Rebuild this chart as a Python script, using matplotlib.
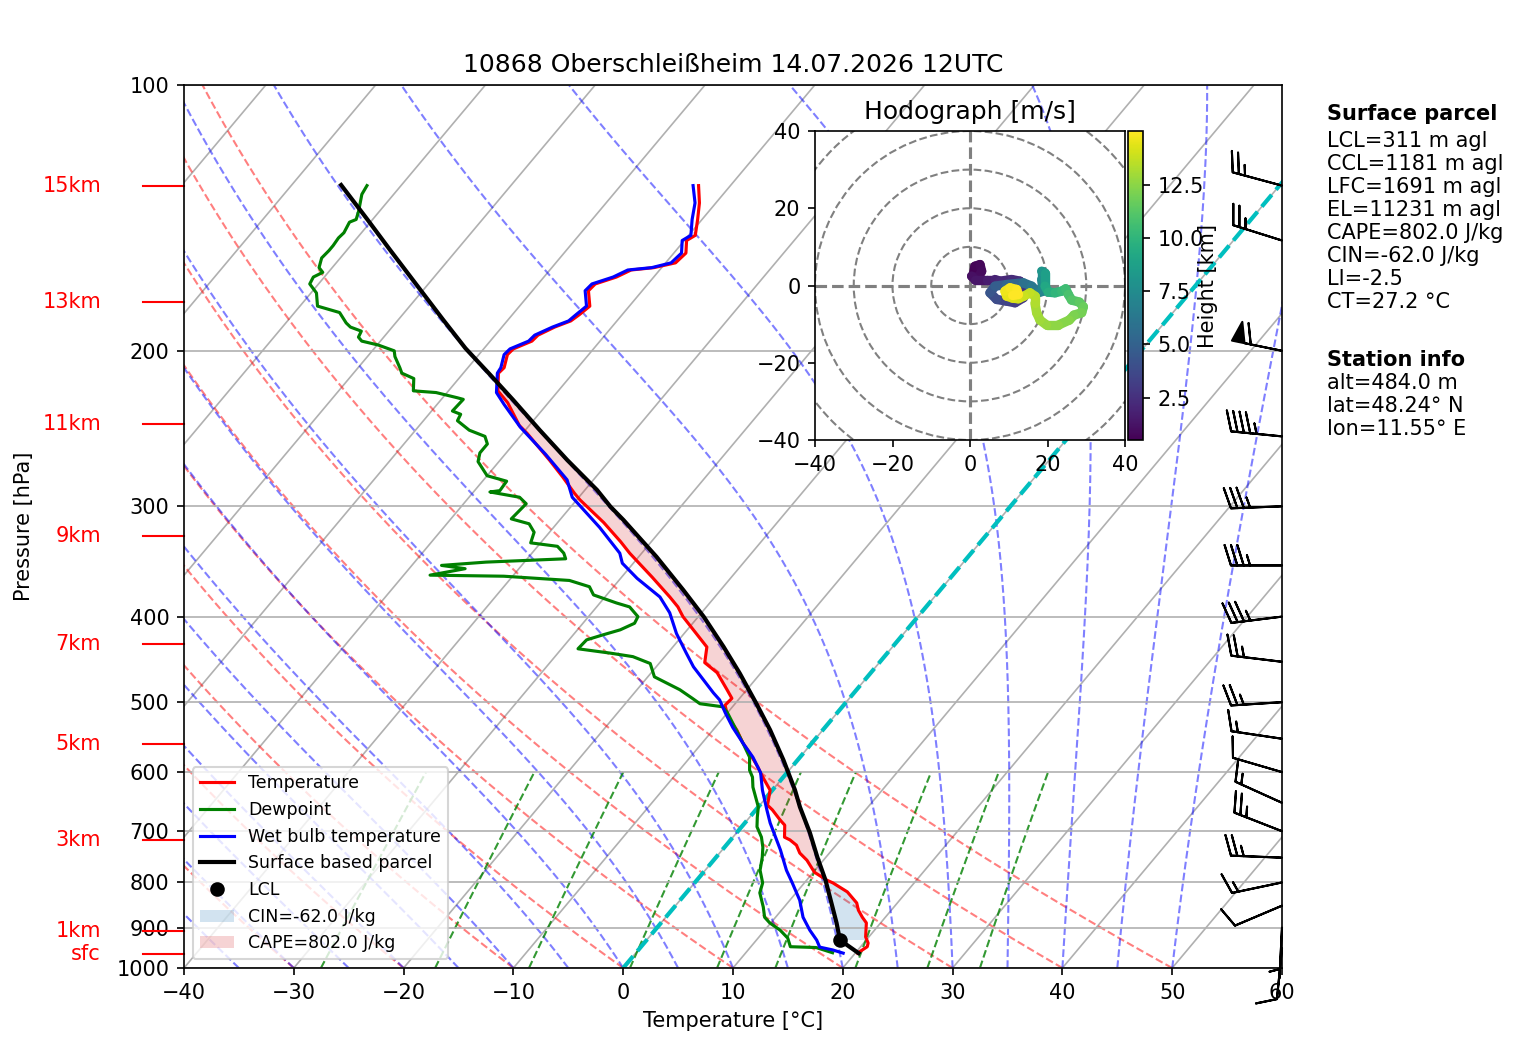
import numpy as np
import matplotlib
matplotlib.use("Agg")
import matplotlib.pyplot as plt
from matplotlib.collections import LineCollection
from matplotlib.colors import Normalize
from matplotlib.patches import Circle
from matplotlib.ticker import NullLocator

# shift of the isotherms in degC per decade of pressure
SKEW = 67.45

# ---- sounding (hPa, degC) ----
temp_p = [962, 946, 937, 922, 889, 876, 860, 844, 820, 801, 795, 779, 755, 741, 726, 716, 711, 689, 680, 662,
          654, 629, 605, 592, 571, 556, 538, 520, 504, 495, 484, 463, 451, 433, 418, 400, 390, 380, 361, 339,
          329, 313, 295, 290, 278, 266, 248, 243, 229, 222, 212, 209, 202, 199, 195, 192, 188, 185, 182, 178,
          171, 168, 165, 162, 161, 159, 155, 150, 148, 142, 136, 130]
temp_t = [20.2, 20.6, 20.4, 19.7, 18.7, 17.9, 17.0, 16.3, 14.6, 12.6, 11.8, 10.1, 8.5, 7.3, 6.4, 5.4, 4.7, 3.8, 3.0, 1.5,
          0.7, -0.2, -2.1, -3.1, -4.9, -6.3, -7.8, -9.6, -10.8, -10.7, -11.8, -14.0, -15.9, -16.9, -18.9, -21.4, -22.6, -24.1, -27.2, -31.1,
          -32.8, -35.8, -39.7, -40.7, -43.0, -45.5, -49.6, -50.9, -53.7, -55.5, -56.8, -56.7, -57.4, -57.3, -56.2, -56.1, -55.2, -54.2, -53.9, -53.6,
          -54.9, -54.8, -53.4, -52.6, -50.7, -49.1, -48.9, -49.8, -49.4, -50.4, -51.5, -52.9]

dew_p = [961, 948, 946, 925, 906, 889, 876, 853, 822, 801, 775, 749, 730, 711, 692, 675, 657, 624, 608, 597,
         577, 556, 534, 514, 506, 502, 495, 484, 468, 452, 444, 440, 435, 425, 420, 414, 407, 400, 390, 386,
         378, 370, 364, 360, 359, 353, 350, 347, 344, 339, 333, 330, 321, 314, 310, 298, 293, 289, 288, 281,
         277, 267, 261, 255, 250, 246, 240, 236, 234, 227, 226, 223, 222, 215, 212, 209, 203, 200, 197, 195,
         193, 190, 188, 186, 181, 178, 172, 168, 165, 163, 161, 157, 154, 152, 149, 147, 143, 142, 139, 133, 130]
dew_t = [17.9, 16.0, 13.6, 12.7, 11.4, 9.9, 9.0, 8.1, 6.7, 6.2, 5.0, 4.2, 3.5, 2.6, 1.4, 0.7, 0.0, -2.0, -2.8, -3.6,
         -4.6, -6.3, -8.2, -10.0, -10.9, -13.2, -14.3, -16.1, -19.4, -20.8, -22.9, -25.2, -28.5, -28.4, -27.4, -26.1, -25.3, -25.5, -27.0, -28.5,
         -31.2, -32.2, -34.5, -40.8, -47.6, -44.9, -47.3, -43.5, -36.5, -37.1, -38.2, -40.9, -41.4, -42.5, -44.5, -44.3, -45.4, -48.5, -47.7, -47.8,
         -50.0, -51.9, -52.4, -52.4, -53.2, -55.1, -56.9, -57.1, -58.1, -58.0, -58.7, -61.0, -63.2, -64.1, -65.6, -66.2, -67.5, -68.0, -69.9, -71.7,
         -72.3, -72.5, -73.8, -74.5, -75.9, -78.4, -79.5, -80.8, -81.0, -80.5, -81.2, -81.7, -81.6, -81.6, -81.7, -81.6, -81.9, -81.5, -81.9, -82.9, -83.1]

wb_p = [962, 954, 947, 930, 906, 876, 838, 801, 775, 735, 685, 662, 629, 601, 577, 556, 534, 514, 497, 488,
        456, 440, 418, 396, 380, 362, 348, 339, 317, 293, 280, 262, 244, 230, 223, 212, 209, 202, 199, 195,
        192, 188, 185, 182, 178, 171, 168, 165, 162, 161, 159, 155, 150, 148, 142, 136, 130]
wb_t = [18.9, 17.7, 16.3, 15.5, 14.1, 12.5, 10.9, 8.9, 7.4, 5.3, 2.3, 1.0, -0.9, -2.4, -4.3, -6.3, -8.4, -10.2, -11.7, -12.8,
        -16.6, -18.3, -20.7, -22.9, -25.0, -28.5, -31.0, -32.0, -35.8, -40.6, -42.4, -46.3, -50.7, -53.9, -55.5, -56.9, -57.0, -57.7, -57.6, -56.5,
        -56.4, -55.4, -54.4, -54.2, -53.9, -55.2, -55.1, -53.7, -52.9, -50.9, -49.5, -49.3, -50.2, -49.8, -50.9, -51.9, -53.4]

parcel_p = [962, 929.6, 889.4, 831, 795, 748.7, 703.3, 657.2, 628.7, 581.3, 537.6, 501.5, 463.7, 432.7, 400.1,
            373.2, 342.1, 310.9, 300.3, 287.5, 265.9, 245.9, 227.4, 213.0, 198.7, 184.5, 168.4, 153.7, 142.2, 129.8]
parcel_t = [20.3, 17.6, 16.0, 13.4, 11.7, 9.2, 6.7, 3.8, 2.05, -1.3, -4.8, -8.1, -11.9, -15.4, -19.5,
            -23.4, -28.4, -34.2, -36.4, -38.9, -43.9, -48.7, -53.4, -57.4, -61.7, -65.9, -71.0, -76.1, -80.4, -85.5]
lcl_p = 929.6
lcl_t = 17.6

# wind barbs (knots)
barb_p = [950, 900, 850, 800, 750, 700, 650, 600, 550, 500, 450, 400, 350, 300, 250, 200, 150, 130]
barb_u = [1.0, 0.2, 9.2, 14.7, 25.0, 23.3, 13.7, 9.6, 14.8, 25.0, 24.8, 34.7, 35.0, 35.0, 44.8, 58.8, 23.9, 24.1]
barb_v = [10.0, 4.0, 3.9, 3.1, -1.0, -9.1, -6.2, -2.8, -2.2, 1.6, -3.0, 4.3, 0.0, 1.4, -4.4, -12.0, -7.5, -6.5]

# hodograph (m/s) and height (km)
hodo_u = [0.86, 1.29, 2.58, 3.01, 2.15, 0.43, 1.29, 4.30, 6.45, 7.74, 10.75, 12.90, 14.19, 13.76, 11.61, 9.46, 6.88, 5.16, 6.45, 9.46,
          13.76, 15.91, 17.63, 18.92, 18.49, 18.49, 19.35, 19.35, 20.22, 21.94, 23.66, 24.69, 25.38, 26.24, 28.22, 29.25, 28.82, 26.84, 25.63, 22.80,
          19.78, 18.06, 17.20, 16.77, 16.77, 15.48, 13.94, 12.47, 11.01, 9.46, 9.03, 10.32, 12.04, 12.47, 11.01]
hodo_v = [2.84, 4.99, 5.42, 3.70, 1.98, 2.41, 1.55, 1.55, 1.55, 1.12, 1.55, 1.12, -1.03, -3.18, -4.47, -4.04, -3.61, -1.89, -0.17, 0.26,
          0.69, -0.17, -1.89, -1.46, 1.55, 3.70, 3.27, -0.17, -1.72, -1.89, -1.46, -0.86, -2.32, -3.78, -4.30, -5.51, -7.05, -7.66, -8.95, -10.24,
          -10.24, -8.95, -7.05, -4.64, -2.75, -1.89, -2.75, -3.44, -3.27, -2.75, -1.46, -0.60, -1.03, -2.32, -2.58]
hodo_h = [0.5, 0.6, 0.7, 0.8, 0.9, 1.0, 1.2, 1.5, 1.8, 2.0, 2.2, 2.4, 2.6, 2.8, 3.0, 3.3, 3.6, 4.2, 4.6, 5.0,
          5.6, 6.1, 6.6, 7.0, 7.4, 7.9, 8.3, 9.0, 9.4, 9.8, 10.2, 10.4, 10.7, 11.0, 11.3, 11.6, 11.9, 12.1, 12.3, 12.5,
          12.7, 12.9, 13.0, 13.2, 13.4, 13.6, 13.8, 14.0, 14.2, 14.4, 14.6, 14.75, 14.9, 15.0, 15.05]

height_labels = ['sfc', '1km', '3km', '5km', '7km', '9km', '11km', '13km', '15km']
height_p = [963.6, 907.5, 715.8, 557.5, 429.3, 324.5, 242.3, 176.2, 130.0]

parcel_info = ['LCL=311 m agl', 'CCL=1181 m agl', 'LFC=1691 m agl', 'EL=11231 m agl',
               'CAPE=802.0 J/kg', 'CIN=-62.0 J/kg', 'LI=-2.5', 'CT=27.2 °C']
station_info = ['alt=484.0 m', 'lat=48.24° N', 'lon=11.55° E']

dry_t0 = np.arange(-40, 51, 10)
moist_t0 = np.arange(-40, 51, 5)
mix_w = [0.0004, 0.001, 0.002, 0.004, 0.007, 0.01, 0.016, 0.024, 0.032]


def skew_x(t, p):
    return np.asarray(t, float) + SKEW * np.log10(1000.0 / np.asarray(p, float))


def moist_lapse(t0, p):
    # integrate saturated adiabats upward from p[0]
    Rd, Cp, Lv, eps = 287.04, 1005.7, 2.501e6, 0.622

    def dtdp(T, pp):
        es = 6.112 * np.exp(17.67 * (T - 273.15) / (T - 29.65))
        rs = eps * es / (pp - es)
        return (Rd * T + Lv * rs) / (pp * (Cp + Lv * Lv * rs * eps / (Rd * T * T)))

    T = np.asarray(t0, float) + 273.15
    out = [T.copy()]
    for i in range(1, len(p)):
        dp = p[i] - p[i - 1]
        p0 = p[i - 1]
        k1 = dtdp(T, p0)
        k2 = dtdp(T + 0.5 * dp * k1, p0 + 0.5 * dp)
        k3 = dtdp(T + 0.5 * dp * k2, p0 + 0.5 * dp)
        k4 = dtdp(T + dp * k3, p0 + dp)
        T = T + dp * (k1 + 2 * k2 + 2 * k3 + k4) / 6
        out.append(T.copy())
    return np.array(out).T - 273.15


W, H = 1517, 1054
fig = plt.figure(figsize=(W / 150, H / 150), dpi=150)
ax = fig.add_axes([184 / W, 86 / H, 1098 / W, 883 / H])
ax.set_yscale('log')
ax.set_autoscale_on(False)

# skewed isotherms and pressure grid
pline = np.array([1000.0, 100.0])
for t in range(-140, 61, 10):
    ax.plot(skew_x([t, t], pline), pline, color='#b0b0b0', lw=0.8, zorder=1)
ax.grid(True, axis='y', color='#b0b0b0', lw=0.8)

pp = np.linspace(1000, 100, 200)
for t0 in dry_t0:
    tt = (t0 + 273.15) * (pp / 1000.0) ** 0.2857 - 273.15
    ax.plot(skew_x(tt, pp), pp, color='r', ls='--', lw=1, alpha=0.5, zorder=1)
for tt in moist_lapse(moist_t0, pp):
    ax.plot(skew_x(tt, pp), pp, color='b', ls='--', lw=1, alpha=0.5, zorder=1)
pm = np.linspace(1000, 600, 50)
for w in mix_w:
    e = w * pm / (0.622 + w)
    a = np.log(e / 6.112)
    td = 243.5 * a / (17.67 - a)
    ax.plot(skew_x(td, pm), pm, color='g', ls='--', lw=1, alpha=0.8, zorder=1)

ax.plot(skew_x([0, 0], pline), pline, color='c', ls='--', lw=2, zorder=2)

# CAPE / CIN shading
grid_p = np.unique(np.concatenate([temp_p, parcel_p]))[::-1]
t_on = np.interp(-np.log(grid_p), -np.log(temp_p), temp_t)
pa_on = np.interp(-np.log(grid_p), -np.log(parcel_p), parcel_t)
sel = (grid_p <= 800) & (grid_p >= 200)
cape = ax.fill_betweenx(grid_p[sel], skew_x(t_on[sel], grid_p[sel]), skew_x(pa_on[sel], grid_p[sel]),
                        where=pa_on[sel] > t_on[sel], interpolate=True,
                        facecolor='tab:red', alpha=0.2, label='CAPE=802.0 J/kg')
sel = (grid_p <= lcl_p + 0.01) & (grid_p >= 770)
cin = ax.fill_betweenx(grid_p[sel], skew_x(t_on[sel], grid_p[sel]), skew_x(pa_on[sel], grid_p[sel]),
                       where=pa_on[sel] < t_on[sel], interpolate=True,
                       facecolor='tab:blue', alpha=0.2, label='CIN=-62.0 J/kg')

l_t, = ax.plot(skew_x(temp_t, temp_p), temp_p, color='red', lw=1.5, label='Temperature', zorder=5)
l_td, = ax.plot(skew_x(dew_t, dew_p), dew_p, color='green', lw=1.5, label='Dewpoint', zorder=5)
l_tw, = ax.plot(skew_x(wb_t, wb_p), wb_p, color='blue', lw=1.5, label='Wet bulb temperature', zorder=5)
l_pa, = ax.plot(skew_x(parcel_t, parcel_p), parcel_p, color='black', lw=2, label='Surface based parcel', zorder=6)
l_lcl, = ax.plot([skew_x(lcl_t, lcl_p)], [lcl_p], 'ko', ms=6, label='LCL', zorder=7)

ax.legend(handles=[l_t, l_td, l_tw, l_pa, l_lcl, cin, cape], loc='lower left', fontsize='small')

# wind barbs on the right edge
ax.barbs(np.ones(len(barb_p)), barb_p, barb_u, barb_v, transform=ax.get_yaxis_transform(),
         clip_on=False, length=7, zorder=8)

# height labels on the left
for lab, pr in zip(height_labels, height_p):
    ax.text(-0.0756, pr, lab, color='red', ha='right', va='center', transform=ax.get_yaxis_transform())
    ax.plot([-0.0373, 0], [pr, pr], color='red', lw=1, transform=ax.get_yaxis_transform(), clip_on=False)

ax.set_xlim(-40, 60)
ax.set_ylim(1000, 100)
ax.set_xticks(range(-40, 61, 10))
ax.set_yticks(range(100, 1001, 100))
ax.set_yticklabels([str(v) for v in range(100, 1001, 100)])
ax.yaxis.set_minor_locator(NullLocator())
ax.set_xlabel('Temperature [°C]')
ax.set_ylabel('Pressure [hPa]')
ax.yaxis.set_label_coords(-0.1366, 0.5)
ax.set_title('10868 Oberschleißheim 14.07.2026 12UTC')

# hodograph inset
hax = fig.add_axes([815 / W, 614 / H, 310 / W, 309 / H])
for r in range(10, 60, 10):
    hax.add_patch(Circle((0, 0), r, fill=False, edgecolor='grey', ls='--', lw=1))
hax.axhline(0, color='grey', ls='--', lw=1.5)
hax.axvline(0, color='grey', ls='--', lw=1.5)
pts = np.column_stack([hodo_u, hodo_v]).reshape(-1, 1, 2)
segs = np.concatenate([pts[:-1], pts[1:]], axis=1)
hh = np.array(hodo_h)
norm = Normalize(min(hodo_h), max(hodo_h))
lc = LineCollection(segs, cmap='viridis', norm=norm, lw=4.5, capstyle='round', joinstyle='round')
lc.set_array((hh[:-1] + hh[1:]) / 2)
hax.add_collection(lc)
hax.set_xlim(-40, 40)
hax.set_ylim(-40, 40)
hax.set_xticks([-40, -20, 0, 20, 40])
hax.set_yticks([-40, -20, 0, 20, 40])
hax.set_title('Hodograph [m/s]')

cax = fig.add_axes([1128 / W, 614 / H, 15 / W, 309 / H])
cb = fig.colorbar(lc, cax=cax, ticks=[2.5, 5, 7.5, 10, 12.5])
cb.set_label('Height [km]', labelpad=-3)

# text block on the right
x0 = 1327 / W
fig.text(x0, 1 - 114 / H, 'Surface parcel', weight='bold', va='center')
for i, s in enumerate(parcel_info):
    fig.text(x0, 1 - (141 + 23 * i) / H, s, va='center')
fig.text(x0, 1 - 360 / H, 'Station info', weight='bold', va='center')
for i, s in enumerate(station_info):
    fig.text(x0, 1 - (383 + 23 * i) / H, s, va='center')

fig.savefig('out.png', dpi=150, facecolor='white')
